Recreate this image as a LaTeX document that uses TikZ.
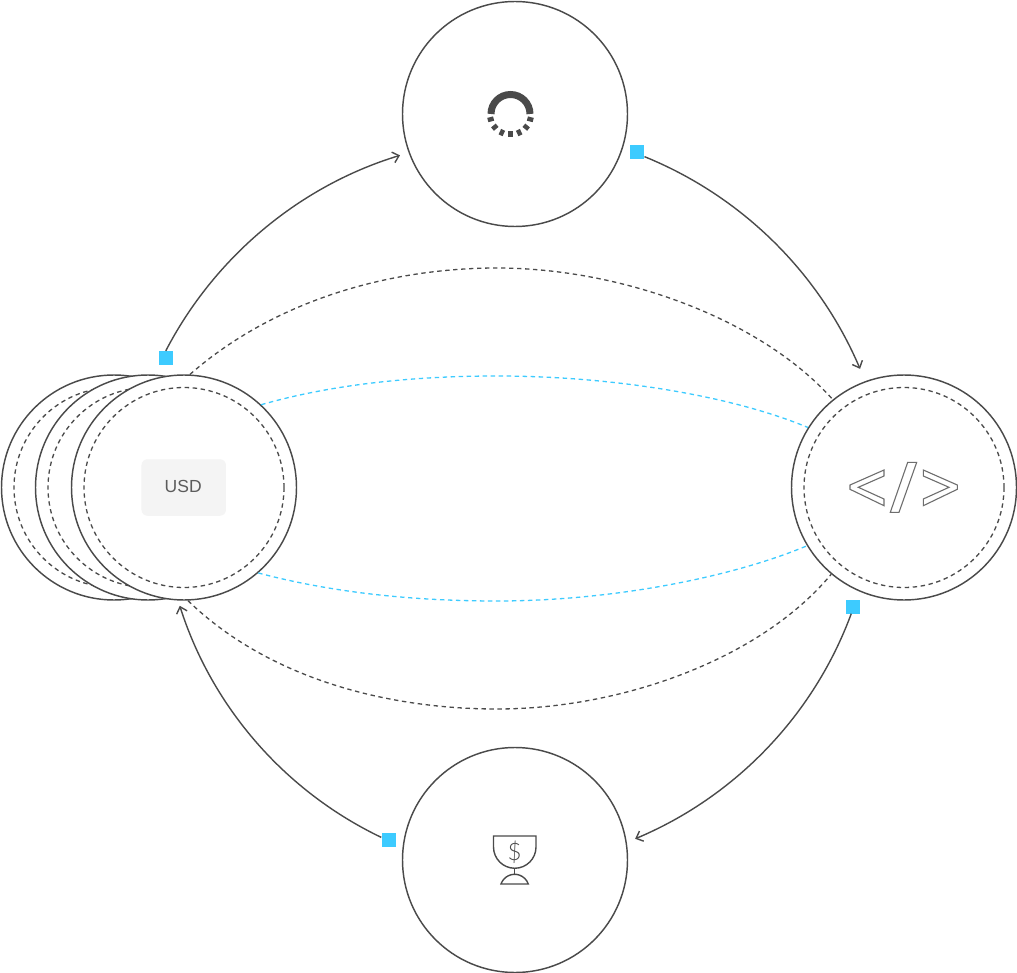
\documentclass[tikz,border=0pt]{standalone}
\usepackage{fontspec}
\setmainfont{Liberation Sans}
\newfontfamily\thinfont{Lato Light}
\usetikzlibrary{arrows.meta}
\definecolor{ink}{HTML}{4A4A4A}
\definecolor{sky}{HTML}{3DCBFF}
\definecolor{soft}{HTML}{F4F4F4}
\definecolor{icongray}{HTML}{6E6E6E}
\tikzset{
  ringnode/.style={circle,draw=ink,fill=white,line width=1.45pt,minimum size=225pt,inner sep=0pt},
  dashring/.style={circle,draw=ink,line width=1.3pt,minimum size=200pt,inner sep=0pt,dash pattern=on 4.4pt off 3.6pt},
  sqnode/.style={rectangle,fill=sky,minimum size=14pt,inner sep=0pt},
  flow/.style={draw=ink,line width=1.4pt,-{Straight Barb[length=6pt,width=11pt,line width=1.4pt]}},
  darkdash/.style={draw=ink,line width=1.3pt,dash pattern=on 4.4pt off 3.6pt},
  skydash/.style={draw=sky,line width=1.3pt,dash pattern=on 4.4pt off 3.6pt},
  iconline/.style={draw=ink,line width=1.4pt},
  codeline/.style={draw=icongray,line width=1.1pt,line join=miter}
}
\begin{document}
\begin{tikzpicture}[x=1pt,y=-1pt]
\useasboundingbox (0,0) rectangle (1017,973);
% circles
\node[ringnode] (topc) at (515,114) {};
\node[ringnode] (botc) at (515,860) {};
\node[ringnode] (right) at (904,487.5) {};
\node[dashring] (righti) at (904,487.5) {};
\node[ringnode] (back) at (114,487.5) {};
\node[dashring] (backi) at (114,487.5) {};
\node[ringnode] (mid) at (148,487.5) {};
\node[dashring] (midi) at (148,487.5) {};
\node[ringnode] (front) at (184,487.5) {};
\node[dashring] (fronti) at (184,487.5) {};
% USD
\node[rectangle,rounded corners=6pt,fill=soft,minimum width=84.5pt,minimum height=56.5pt,inner sep=0pt] (usd) at (183.7,487.5) {};
\node[inner sep=0pt,text=ink!90,font=\fontsize{17.5}{20}\selectfont] (usdtext) at (183.2,486.7) {USD};
% squares
\node[sqnode] (sqa) at (165.8,358) {};
\node[sqnode] (sqb) at (637.3,152.5) {};
\node[sqnode] (sqc) at (852.5,606.5) {};
\node[sqnode] (sqd) at (388.5,840) {};
% apex coordinates of the dashed curves
\coordinate (pka) at (497,268);
\coordinate (pkb) at (497,709);
\coordinate (pkc) at (497,376);
\coordinate (pkd) at (497,601);
% solid connectors
\path[flow,shorten >=9pt] (sqa.north) .. controls (214.5,257) and (299.5,186) .. (topc.200.2);
\path[flow,shorten >=13.3pt] (sqb.-30) .. controls (741.8,196.2) and (819,272.6) .. (right.110.3);
\path[flow,shorten >=9pt] (sqc.-100) .. controls (813.9,715) and (735.6,796.6) .. (botc.9.7);
\path[flow,shorten >=5.5pt] (sqd.160) .. controls (285.3,791.5) and (212.3,707.8) .. (front.267.1);
% dashed connectors
\path[darkdash] (front.87) .. controls (275,300) and (390,268) .. (pka) .. controls (620,268) and (760,318) .. (right.129.3);
\path[darkdash] (front.272) .. controls (270,680) and (390,709) .. (pkb) .. controls (620,709) and (760,660) .. (right.230.7);
\path[skydash] (front.47.5) .. controls (330,385) and (410,376) .. (pkc) .. controls (610,376) and (730,395) .. (right.148.9);
\path[skydash] (front.311.5) .. controls (330,592) and (410,601) .. (pkd) .. controls (610,601) and (730,578) .. (right.211.1);
% spinner icon
\draw[ink,line width=7pt] (491,114) arc[start angle=180,end angle=360,radius=19.5];
\foreach \a in {15,40,65,90,115,140,165}
  \draw[ink,line width=4.4pt] (510.5,114)++(\a:17.5) -- ++(\a:6);
% code icon
\draw[codeline] (884,470)--(850,485)--(850,489.3)--(884,505.7)--(884,499)--(858.3,487.3)--(884,476)--cycle;
\draw[codeline] (907.7,462.3)--(916.7,462.3)--(899,512.3)--(890.3,512.3)--cycle;
\draw[codeline] (923.3,470)--(957.3,485)--(957.3,489.3)--(923.3,505.7)--(923.3,499)--(949,487.3)--(923.3,476)--cycle;
% cup icon
\draw[iconline] (493.5,836)--(536,836)--(536,847) arc[start angle=0,end angle=180,radius=21.25]--cycle;
\draw[iconline] (514.75,868)--(514.75,874.5);
\draw[iconline] (501,884) arc[start angle=199.2,end angle=340.8,radius=14.45]--cycle;
\node[inner sep=0pt,text=ink,font=\thinfont\fontsize{24}{26}\selectfont] (dollar) at (514.7,852) {\$};
\end{tikzpicture}
\end{document}
